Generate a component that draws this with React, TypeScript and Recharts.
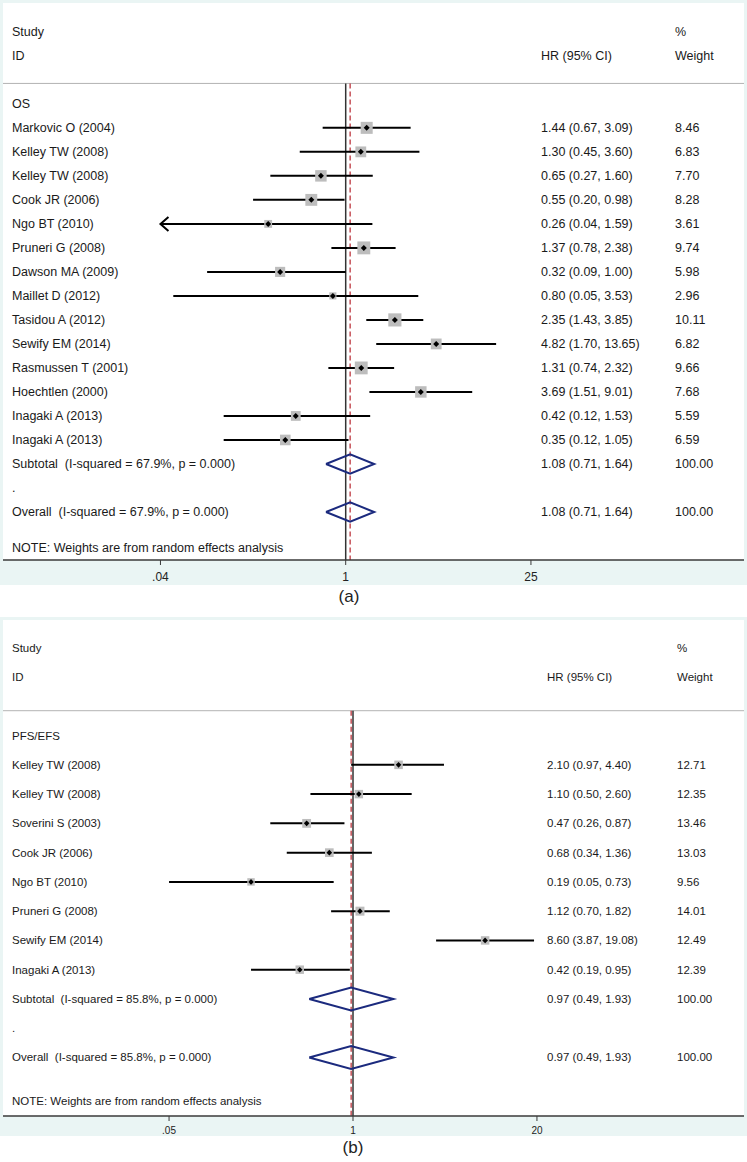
import React from "react";
import {
  ScatterChart,
  Scatter,
  XAxis,
  YAxis,
  ErrorBar,
  ReferenceLine,
  ReferenceDot,
  CartesianGrid,
} from "recharts";

// (a) OS
const osStudies = [
  "Markovic O (2004)",
  "Kelley TW (2008)",
  "Kelley TW (2008)",
  "Cook JR (2006)",
  "Ngo BT (2010)",
  "Pruneri G (2008)",
  "Dawson MA (2009)",
  "Maillet D (2012)",
  "Tasidou A (2012)",
  "Sewify EM (2014)",
  "Rasmussen T (2001)",
  "Hoechtlen (2000)",
  "Inagaki A (2013)",
  "Inagaki A (2013)",
];
const osHr = [1.44, 1.3, 0.65, 0.55, 0.26, 1.37, 0.32, 0.8, 2.35, 4.82, 1.31, 3.69, 0.42, 0.35];
const osLow = [0.67, 0.45, 0.27, 0.2, 0.04, 0.78, 0.09, 0.05, 1.43, 1.7, 0.74, 1.51, 0.12, 0.12];
const osHigh = [3.09, 3.6, 1.6, 0.98, 1.59, 2.38, 1.0, 3.53, 3.85, 13.65, 2.32, 9.01, 1.53, 1.05];
const osWeight = [8.46, 6.83, 7.7, 8.28, 3.61, 9.74, 5.98, 2.96, 10.11, 6.82, 9.66, 7.68, 5.59, 6.59];
const osArrowLeft = [4]; // CI runs past the axis
const osPooled = [1.08, 0.71, 1.64];
const osHet = ["67.9%", "0.000"];
const osTicks = [0.04, 1, 25];
const osTickLabels = [".04", "1", "25"];

// (b) PFS/EFS
const pfsStudies = [
  "Kelley TW (2008)",
  "Kelley TW (2008)",
  "Soverini S (2003)",
  "Cook JR (2006)",
  "Ngo BT (2010)",
  "Pruneri G (2008)",
  "Sewify EM (2014)",
  "Inagaki A (2013)",
];
const pfsHr = [2.1, 1.1, 0.47, 0.68, 0.19, 1.12, 8.6, 0.42];
const pfsLow = [0.97, 0.5, 0.26, 0.34, 0.05, 0.7, 3.87, 0.19];
const pfsHigh = [4.4, 2.6, 0.87, 1.36, 0.73, 1.82, 19.08, 0.95];
const pfsWeight = [12.71, 12.35, 13.46, 13.03, 9.56, 14.01, 12.49, 12.39];
const pfsArrowLeft: number[] = [];
const pfsPooled = [0.97, 0.49, 1.93];
const pfsHet = ["85.8%", "0.000"];
const pfsTicks = [0.05, 1, 20];
const pfsTickLabels = [".05", "1", "20"];

const FONT = '"Liberation Sans", Arial, Helvetica, sans-serif';
const TEAL = "#eaf5f4";
const NAVY = "#1b2a7e";
const RED = "#b8262f";

const layoutA = {
  plotH: 557, axisH: 23, padBottom: 2, rowTop: -4.2, nullX: 345.7, pxPerLn: 57.55,
  font: 12.5, tickFont: 12, tickMargin: 7, nameX: 12, hrX: 541, wX: 675,
  boxK: 4.13, dot: 3, dHalf: 0.4,
};
const layoutB = {
  plotH: 496, axisH: 20, padBottom: 0, rowTop: -3.95, nullX: 353, pxPerLn: 61.4,
  font: 11.5, tickFont: 10, tickMargin: 6, nameX: 12, hrX: 547, wX: 677,
  boxK: 2.4, dot: 2.8, dHalf: 0.39,
};

const W = 747;
const PAD = 3;
const f2 = (v: number) => v.toFixed(2);

function Forest(props: any) {
  const { group, studies, hr, low, high, weight, arrowLeft, pooled, het, ticks, tickLabels, L } = props;
  const n = studies.length;
  const rowBottom = n + 5;
  const headLine = -0.85;
  const plotW = W - 2 * PAD;
  const dLo = Math.exp((PAD - L.nullX) / L.pxPerLn);
  const dHi = Math.exp((PAD + plotW - L.nullX) / L.pxPerLn);

  const pooledText = `${f2(pooled[0])} (${f2(pooled[1])}, ${f2(pooled[2])})`;
  const rows = new Map<number, string[]>();
  rows.set(-3, ["Study", "", "%"]);
  rows.set(-2, ["ID", "HR (95% CI)", "Weight"]);
  rows.set(0, [group, "", ""]);
  studies.forEach((s: string, i: number) => {
    rows.set(i + 1, [s, `${f2(hr[i])} (${f2(low[i])}, ${f2(high[i])})`, f2(weight[i])]);
  });
  rows.set(n + 1, [`Subtotal  (I-squared = ${het[0]}, p = ${het[1]})`, pooledText, "100.00"]);
  rows.set(n + 2, [".", "", ""]);
  rows.set(n + 3, [`Overall  (I-squared = ${het[0]}, p = ${het[1]})`, pooledText, "100.00"]);
  rows.set(n + 4.5, ["NOTE: Weights are from random effects analysis", "", ""]);
  const rowTicks = Array.from(rows.keys());

  const points = studies.map((s: string, i: number) => ({
    x: hr[i],
    y: i + 1,
    w: weight[i],
    err: [hr[i] - low[i], high[i] - hr[i]],
  }));

  const diamond = (r: number) => [
    { x: pooled[1], y: r },
    { x: pooled[0], y: r - L.dHalf },
    { x: pooled[2], y: r },
    { x: pooled[0], y: r + L.dHalf },
    { x: pooled[1], y: r },
  ];

  const RowTick = (p: any) => {
    const t = rows.get(p.payload.value) || ["", "", ""];
    const common = {
      y: p.y,
      dominantBaseline: "central" as const,
      fontSize: L.font,
      fill: "#1a1a1a",
      fontFamily: FONT,
      style: { whiteSpace: "pre" as const },
    };
    return (
      <g>
        <text x={L.nameX} {...common}>{t[0]}</text>
        <text x={L.hrX} {...common}>{t[1]}</text>
        <text x={L.wX} {...common}>{t[2]}</text>
      </g>
    );
  };

  const height = PAD + L.plotH + L.axisH + L.padBottom;

  return (
    <div style={{ width: W, height, background: TEAL }}>
      <ScatterChart
        width={W}
        height={height}
        margin={{ top: PAD, right: PAD, left: PAD - 1, bottom: L.padBottom }}
        style={{ overflow: "visible" }}
      >
        <CartesianGrid horizontal={false} vertical={false} fill="#ffffff" stroke="none" />
        <XAxis
          type="number"
          dataKey="x"
          scale="log"
          domain={[dLo, dHi]}
          allowDataOverflow
          ticks={ticks}
          interval={0}
          tickFormatter={(v: number) => tickLabels[ticks.indexOf(v)] ?? ""}
          height={L.axisH}
          tickSize={5}
          tickMargin={L.tickMargin}
          axisLine={{ stroke: "#3a3a3a", strokeWidth: 1.5 }}
          tickLine={{ stroke: "#3a3a3a", strokeWidth: 1 }}
          tick={{ fontSize: L.tickFont, fill: "#222", fontFamily: FONT }}
        />
        <YAxis
          type="number"
          dataKey="y"
          reversed
          domain={[L.rowTop, rowBottom]}
          allowDataOverflow
          ticks={rowTicks}
          interval={0}
          width={1}
          axisLine={false}
          tickLine={false}
          tick={RowTick}
        />
        <ReferenceLine y={headLine} stroke="#b3b3b3" strokeWidth={1} />
        <ReferenceLine
          segment={[{ x: 1, y: headLine }, { x: 1, y: rowBottom }]}
          stroke="#333"
          strokeWidth={1.5}
        />
        <ReferenceLine
          segment={[{ x: pooled[0], y: headLine }, { x: pooled[0], y: rowBottom }]}
          stroke={RED}
          strokeWidth={1.2}
          strokeDasharray="5 3"
        />
        <Scatter
          data={points}
          isAnimationActive={false}
          shape={(p: any) => {
            const s = L.boxK * Math.sqrt(p.payload.w);
            return <rect x={p.cx - s / 2} y={p.cy - s / 2} width={s} height={s} fill="#bdbdbd" />;
          }}
        />
        <Scatter
          data={points}
          isAnimationActive={false}
          shape={(p: any) => {
            const d = L.dot;
            return (
              <polygon
                points={`${p.cx - d},${p.cy} ${p.cx},${p.cy - d} ${p.cx + d},${p.cy} ${p.cx},${p.cy + d}`}
                fill="#000"
              />
            );
          }}
        >
          <ErrorBar
            dataKey="err"
            direction="x"
            width={0}
            stroke="#000"
            strokeWidth={2}
            isAnimationActive={false}
          />
        </Scatter>
        {arrowLeft.map((i: number) => (
          <ReferenceDot
            key={`arrow-${i}`}
            x={low[i]}
            y={i + 1}
            shape={(p: any) => (
              <path
                d={`M${p.cx + 8},${p.cy - 7} L${p.cx},${p.cy} L${p.cx + 8},${p.cy + 7}`}
                stroke="#000"
                strokeWidth={2}
                fill="none"
              />
            )}
          />
        ))}
        {[n + 1, n + 3].map((r) => (
          <Scatter
            key={`diamond-${r}`}
            data={diamond(r)}
            isAnimationActive={false}
            fill={NAVY}
            line={{ stroke: NAVY, strokeWidth: 2 }}
            lineType="joint"
            shape={() => <g />}
          />
        ))}
      </ScatterChart>
    </div>
  );
}

export default function App() {
  return (
    <div
      style={{
        position: "absolute",
        left: 0,
        top: 0,
        width: W,
        height: 1162,
        background: "#fff",
        fontFamily: FONT,
      }}
    >
      <Forest
        group="OS"
        studies={osStudies}
        hr={osHr}
        low={osLow}
        high={osHigh}
        weight={osWeight}
        arrowLeft={osArrowLeft}
        pooled={osPooled}
        het={osHet}
        ticks={osTicks}
        tickLabels={osTickLabels}
        L={layoutA}
      />
      <div style={{ position: "absolute", top: 587, left: 0, width: 698, textAlign: "center", fontSize: 17, color: "#222" }}>
        (a)
      </div>
      <div style={{ position: "absolute", top: 617, left: 0 }}>
        <Forest
          group="PFS/EFS"
          studies={pfsStudies}
          hr={pfsHr}
          low={pfsLow}
          high={pfsHigh}
          weight={pfsWeight}
          arrowLeft={pfsArrowLeft}
          pooled={pfsPooled}
          het={pfsHet}
          ticks={pfsTicks}
          tickLabels={pfsTickLabels}
          L={layoutB}
        />
      </div>
      <div style={{ position: "absolute", top: 1138, left: 0, width: 706, textAlign: "center", fontSize: 17, color: "#222" }}>
        (b)
      </div>
    </div>
  );
}
